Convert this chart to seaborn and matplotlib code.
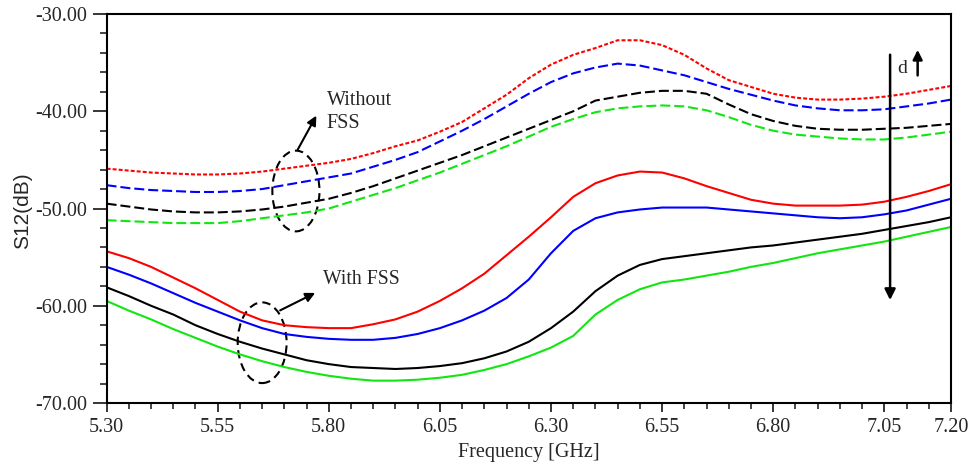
import numpy as np
import pandas as pd
import matplotlib
matplotlib.use("Agg")
import matplotlib.pyplot as plt
import seaborn as sns
from matplotlib.patches import Ellipse
from matplotlib.ticker import MultipleLocator, FormatStrFormatter

# Frequency grid (GHz)
freq = [5.30, 5.35, 5.40, 5.45, 5.50, 5.55, 5.60, 5.65, 5.70, 5.75,
        5.80, 5.85, 5.90, 5.95, 6.00, 6.05, 6.10, 6.15, 6.20, 6.25,
        6.30, 6.35, 6.40, 6.45, 6.50, 6.55, 6.60, 6.65, 6.70, 6.75,
        6.80, 6.85, 6.90, 6.95, 7.00, 7.05, 7.10, 7.15, 7.20]

# S12 without FSS (dashed / dotted)
wo_red = [-45.9, -46.1, -46.3, -46.4, -46.5, -46.5, -46.4, -46.2, -45.9, -45.6,
          -45.3, -44.9, -44.3, -43.6, -43.0, -42.1, -41.1, -39.7, -38.3, -36.6,
          -35.2, -34.2, -33.5, -32.7, -32.7, -33.2, -34.2, -35.6, -36.8, -37.5,
          -38.2, -38.6, -38.8, -38.8, -38.7, -38.5, -38.2, -37.8, -37.4]
wo_blue = [-47.6, -47.9, -48.1, -48.2, -48.3, -48.3, -48.2, -48.0, -47.6, -47.2,
           -46.8, -46.4, -45.7, -45.0, -44.2, -43.1, -42.0, -40.8, -39.5, -38.2,
           -37.0, -36.1, -35.5, -35.1, -35.3, -35.8, -36.3, -37.0, -37.7, -38.3,
           -38.9, -39.4, -39.7, -39.9, -39.9, -39.8, -39.5, -39.2, -38.8]
wo_black = [-49.5, -49.8, -50.1, -50.3, -50.4, -50.4, -50.3, -50.1, -49.8, -49.4,
            -49.0, -48.4, -47.7, -46.9, -46.1, -45.3, -44.5, -43.6, -42.7, -41.8,
            -40.9, -40.0, -38.9, -38.5, -38.1, -37.9, -37.9, -38.2, -39.3, -40.3,
            -41.0, -41.5, -41.8, -41.9, -41.9, -41.8, -41.7, -41.5, -41.3]
wo_green = [-51.2, -51.3, -51.4, -51.5, -51.5, -51.5, -51.3, -51.0, -50.7, -50.4,
            -50.0, -49.3, -48.6, -47.9, -47.1, -46.3, -45.4, -44.5, -43.6, -42.6,
            -41.6, -40.8, -40.1, -39.7, -39.5, -39.4, -39.5, -39.9, -40.6, -41.4,
            -42.0, -42.4, -42.6, -42.8, -42.9, -42.9, -42.7, -42.4, -42.1]

# S12 with FSS (solid)
w_red = [-54.4, -55.1, -56.0, -57.1, -58.2, -59.4, -60.6, -61.5, -62.0, -62.2,
         -62.3, -62.3, -61.9, -61.4, -60.6, -59.5, -58.2, -56.7, -54.8, -52.9,
         -50.9, -48.8, -47.4, -46.6, -46.2, -46.3, -46.9, -47.7, -48.4, -49.1,
         -49.5, -49.7, -49.7, -49.7, -49.6, -49.3, -48.8, -48.2, -47.5]
w_blue = [-56.0, -56.8, -57.7, -58.7, -59.7, -60.6, -61.5, -62.3, -62.9, -63.2,
          -63.4, -63.5, -63.5, -63.3, -62.9, -62.3, -61.5, -60.5, -59.2, -57.3,
          -54.6, -52.3, -51.0, -50.4, -50.1, -49.9, -49.9, -49.9, -50.1, -50.3,
          -50.5, -50.7, -50.9, -51.0, -50.9, -50.6, -50.2, -49.6, -49.0]
w_black = [-58.1, -59.0, -60.0, -60.9, -62.0, -62.9, -63.7, -64.4, -65.0, -65.6,
           -66.0, -66.3, -66.4, -66.5, -66.4, -66.2, -65.9, -65.4, -64.7, -63.7,
           -62.3, -60.6, -58.5, -56.9, -55.8, -55.2, -54.9, -54.6, -54.3, -54.0,
           -53.8, -53.5, -53.2, -52.9, -52.6, -52.2, -51.8, -51.4, -50.9]
w_green = [-59.5, -60.5, -61.4, -62.4, -63.3, -64.2, -65.0, -65.7, -66.3, -66.8,
           -67.2, -67.5, -67.7, -67.7, -67.6, -67.4, -67.1, -66.6, -66.0, -65.2,
           -64.3, -63.1, -60.9, -59.4, -58.3, -57.6, -57.3, -56.9, -56.5, -56.0,
           -55.6, -55.1, -54.6, -54.2, -53.8, -53.4, -52.9, -52.4, -51.9]

x_major = [5.30, 5.55, 5.80, 6.05, 6.30, 6.55, 6.80, 7.05, 7.20]

RED, BLUE, BLACK, GREEN = '#ff0000', '#0000ff', '#000000', '#11e611'

sns.set_style('ticks')
plt.rcParams['font.family'] = ['Liberation Serif', 'DejaVu Serif']

fig = plt.figure(figsize=(9.69, 4.67), dpi=100)
ax = fig.add_axes([0.110, 0.137, 0.8714, 0.833])

series = [
    (wo_red, RED, (0, (1.9, 1.0))),
    (wo_blue, BLUE, (0, (4.8, 1.9))),
    (wo_black, BLACK, (0, (4.8, 1.9))),
    (wo_green, GREEN, (0, (4.8, 1.9))),
    (w_red, RED, '-'),
    (w_blue, BLUE, '-'),
    (w_black, BLACK, '-'),
    (w_green, GREEN, '-'),
]
for vals, col, ls in series:
    sns.lineplot(x=freq, y=vals, color=col, linestyle=ls, linewidth=1.5, ax=ax)

ax.set_xlim(5.30, 7.20)
ax.set_ylim(-70, -30)
ax.set_xticks(x_major)
ax.xaxis.set_minor_locator(MultipleLocator(0.05))
ax.yaxis.set_major_locator(MultipleLocator(10))
ax.yaxis.set_minor_locator(MultipleLocator(2))
ax.xaxis.set_major_formatter(FormatStrFormatter('%.2f'))
ax.yaxis.set_major_formatter(FormatStrFormatter('%.2f'))
ax.tick_params(axis='y', which='major', length=10, width=1.3, labelsize=14.5, pad=4)
ax.tick_params(axis='y', which='minor', length=5, width=1.2)
ax.tick_params(axis='x', which='major', length=6.5, width=1.3, labelsize=14.5, pad=4)
ax.tick_params(axis='x', which='minor', length=4, width=1.2)
for sp in ax.spines.values():
    sp.set_linewidth(1.5)
    sp.set_color('black')

ax.set_xlabel('Frequency [GHz]', fontsize=14.5)
ax.xaxis.set_label_coords(0.5, -0.103)
ax.set_ylabel('S12(dB)', fontsize=15, family=['Liberation Sans', 'DejaVu Sans'])
ax.yaxis.set_label_coords(-0.0885, 0.494)

# annotations
ax.add_patch(Ellipse((5.726, -48.2), 0.106, 8.3, fill=False, ec='black',
                     lw=1.5, ls=(0, (4, 2.5))))
ax.add_patch(Ellipse((5.65, -63.8), 0.11, 8.3, fill=False, ec='black',
                     lw=1.5, ls=(0, (4, 2.5))))
ax.annotate('', xy=(5.775, -40.2), xytext=(5.727, -44.2),
            arrowprops=dict(arrowstyle='-|>', color='black', lw=1.5, mutation_scale=14))
ax.annotate('', xy=(5.775, -58.55), xytext=(5.685, -60.6),
            arrowprops=dict(arrowstyle='-|>', color='black', lw=1.5, mutation_scale=14))
ax.text(5.795, -40.1, 'Without\nFSS', fontsize=14.5, ha='left', va='center', linespacing=1.25)
ax.text(5.787, -57.3, 'With FSS', fontsize=14.2, ha='left', va='center')

ax.annotate('', xy=(7.063, -59.7), xytext=(7.063, -33.9),
            arrowprops=dict(arrowstyle='-|>', color='black', lw=1.8, mutation_scale=16))
ax.annotate('', xy=(7.125, -33.4), xytext=(7.125, -36.6),
            arrowprops=dict(arrowstyle='-|>', color='black', lw=1.8, mutation_scale=14))
ax.text(7.09, -35.6, 'd', fontsize=14, ha='center', va='center')

fig.savefig('out.png', dpi=100)
